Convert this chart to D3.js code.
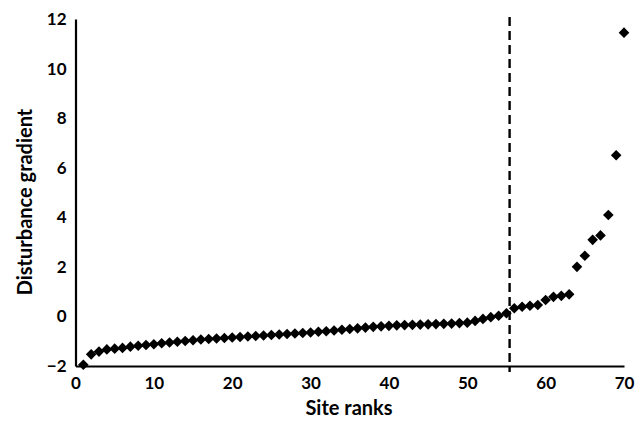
<!DOCTYPE html>
<html>
<head>
<meta charset="utf-8">
<script src="https://cdn.jsdelivr.net/npm/d3@7"></script>
<style>
  html, body { margin: 0; padding: 0; background: #fff; }
  svg { display: block; }
  text { font-family: Lato, "Open Sans", sans-serif; font-weight: bold; fill: #000; }
</style>
</head>
<body>
<svg id="chart" width="644" height="422"></svg>
<script>
// Data
const ranks = d3.range(1, 71);
const disturbance = [
  -1.95, -1.53, -1.42, -1.33, -1.30, -1.27, -1.22, -1.18, -1.15, -1.12,
  -1.08, -1.05, -1.02, -0.99, -0.96, -0.93, -0.91, -0.89, -0.87, -0.85,
  -0.83, -0.81, -0.79, -0.77, -0.75, -0.73, -0.71, -0.69, -0.67, -0.65,
  -0.62, -0.60, -0.57, -0.54, -0.51, -0.48, -0.45, -0.42, -0.40, -0.38,
  -0.36, -0.35, -0.34, -0.33, -0.32, -0.31, -0.30, -0.29, -0.27, -0.25,
  -0.18, -0.10, -0.03, 0.03, 0.13, 0.33, 0.39, 0.43, 0.46, 0.66,
  0.79, 0.83, 0.89, 2.00, 2.45, 3.09, 3.27, 4.09, 6.50, 11.45
];
const xTicks = [0, 10, 20, 30, 40, 50, 60, 70];
const yTicks = [-2, 0, 2, 4, 6, 8, 10, 12];
const cutoffRank = [55.4];
const xTitle = "Site ranks";
const yTitle = "Disturbance gradient";

const svg = d3.select("#chart");
const x = d3.scaleLinear().domain([0, 70]).range([75.5, 624]);
const y = d3.scaleLinear().domain([-2, 12]).range([366, 19]);

// X axis
const xAxis = svg.append("g").attr("transform", `translate(0,${y(-2)})`)
  .call(d3.axisBottom(x).tickValues(xTicks).tickSize(0).tickPadding(11).tickFormat(d3.format("d")));
xAxis.select(".domain").attr("stroke", "#000").attr("stroke-width", 2.2);
xAxis.selectAll("text").style("font-size", "17px");

// Y axis
const yAxis = svg.append("g").attr("transform", `translate(${x(0)},0)`)
  .call(d3.axisLeft(y).tickValues(yTicks).tickSize(0).tickPadding(9).tickFormat(d3.format("d")));
yAxis.select(".domain").attr("stroke", "#000").attr("stroke-width", 2.2);
yAxis.selectAll("text").style("font-size", "17px");

// Cutoff dashed line
svg.selectAll("line.cut").data(cutoffRank).enter().append("line")
  .attr("class", "cut")
  .attr("x1", d => x(d)).attr("x2", d => x(d))
  .attr("y1", y(12) - 2).attr("y2", y(-2) + 6)
  .attr("stroke", "#000").attr("stroke-width", 2.4)
  .attr("stroke-dasharray", "9,5");

// Points (diamonds)
const diamond = "M0,-5.3L5.3,0L0,5.3L-5.3,0Z";
svg.append("g").selectAll("path").data(ranks).enter().append("path")
  .attr("d", diamond)
  .attr("transform", (d, i) => `translate(${x(d)},${y(disturbance[i])})`)
  .attr("fill", "#000");

// Titles
svg.append("text").attr("x", 349).attr("y", 415)
  .attr("text-anchor", "middle").style("font-size", "20px").text(xTitle);
svg.append("text")
  .attr("transform", `translate(32,${202}) rotate(-90)`)
  .attr("text-anchor", "middle").style("font-size", "20px").text(yTitle);
</script>
</body>
</html>
